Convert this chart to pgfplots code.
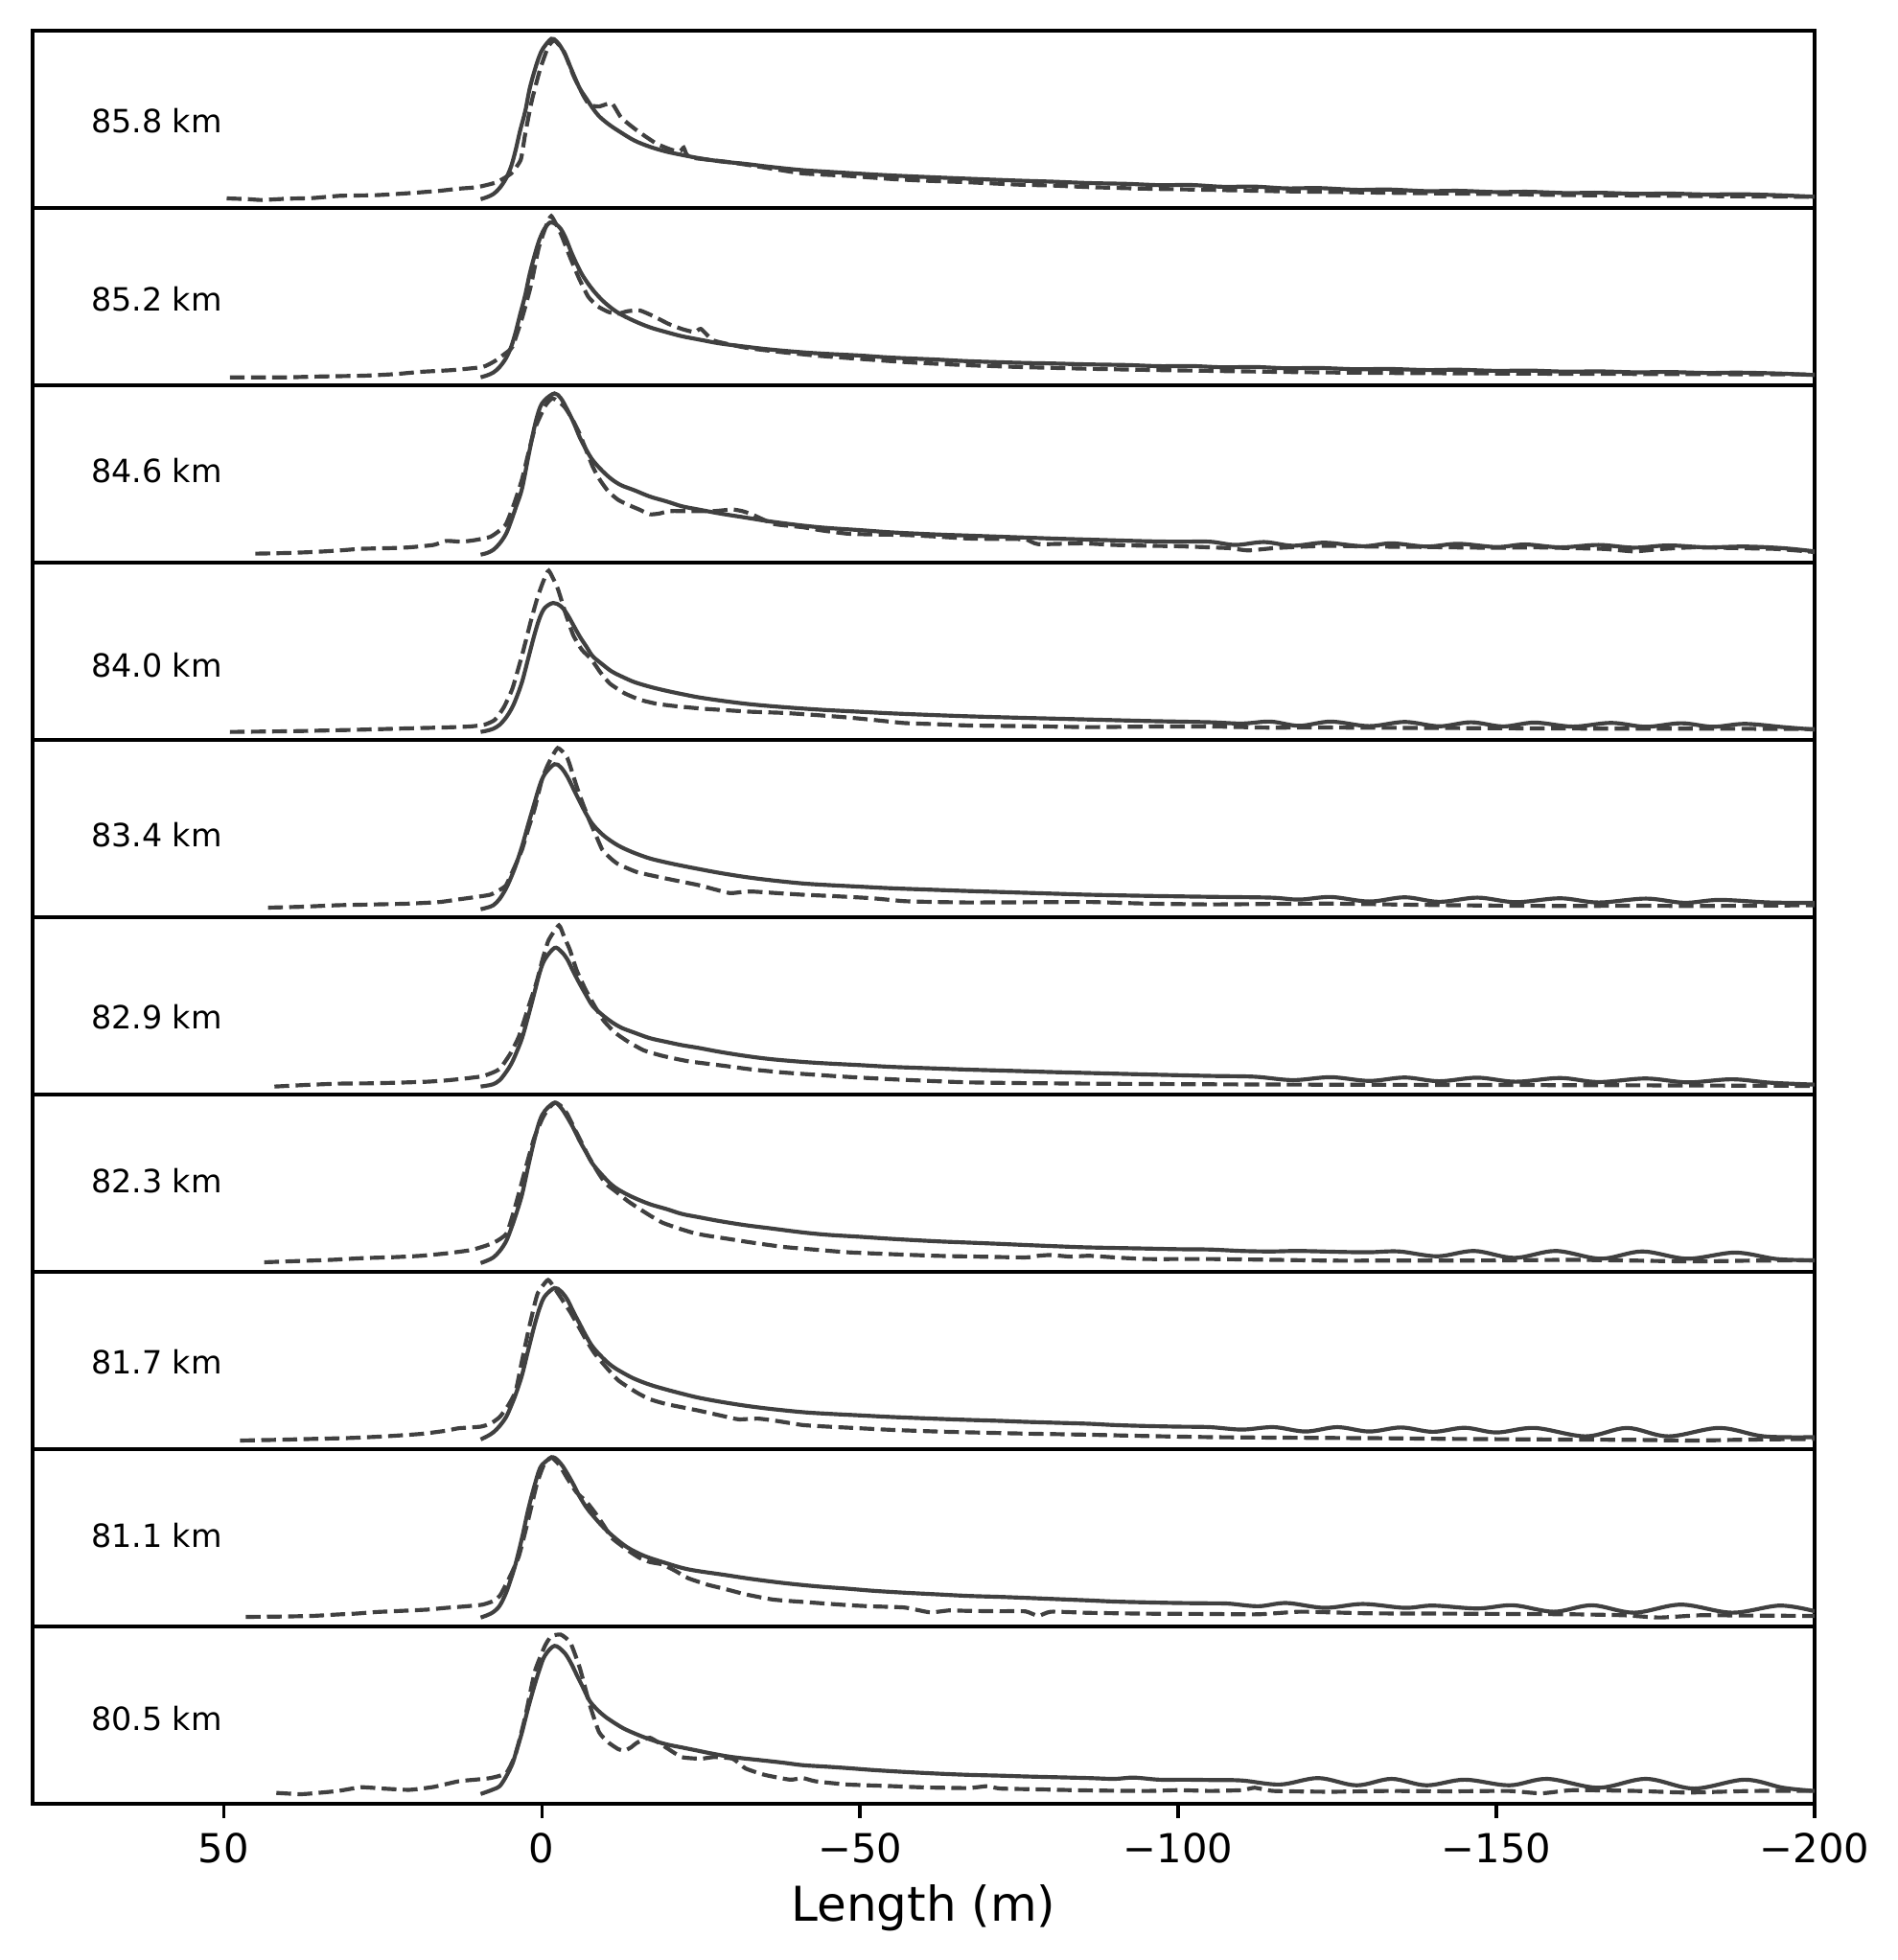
\documentclass[border=0pt]{standalone}
\usepackage{fontspec}
\setmainfont{DejaVu Sans}
\usepackage{pgfplots}
\pgfplotsset{compat=1.18}
\pgfplotsset{
  panel/.style={
    scale only axis, width=446.2pt, height=44.4pt,
    xmin=-200, xmax=80, x dir=reverse,
    ymin=-0.05, ymax=1.05,
    ytick=\empty, xtick=\empty,
    axis line style={line width=0.8pt, black},
    anchor=south west,
  },
  solidline/.style={black!75, line width=1pt, smooth, tension=0.55, no marks},
  dashline/.style={black!75, line width=1pt, dash pattern=on 3.7pt off 1.6pt, smooth, tension=0.3, no marks},
}
\tikzset{lab/.style={anchor=west, inner sep=0pt, font=\fontsize{8}{9.6}\selectfont}}
\begin{document}
\begin{tikzpicture}
\path[use as bounding box] (0,0) rectangle (475.2pt,490.8pt);
% ---------------- 85.8 km
\begin{axis}[panel, at={(8.16pt,438.7pt)}]
\addplot[solidline] coordinates {(9.6,0.005) (8.6,0.018) (7.6,0.037) (6.6,0.075) (5.6,0.135) (4.8,0.21) (4.1,0.31) (3.4,0.43) (2.6,0.55) (1.9,0.69) (1.1,0.806) (0.4,0.89) (-0.2,0.94) (-1.5,1.0) (-2.3,0.985) (-3,0.95) (-3.7,0.90) (-4.5,0.825) (-5.2,0.76) (-6,0.69) (-7,0.63) (-8,0.57) (-9,0.52) (-10.5,0.47) (-12,0.43) (-14.5,0.37) (-17,0.33) (-19.6,0.30) (-22,0.28) (-24.6,0.26) (-28,0.24) (-32,0.224) (-36,0.205) (-41,0.185) (-45,0.175) (-50,0.163) (-55,0.152) (-62,0.14) (-67,0.132) (-75,0.12) (-80,0.114) (-86,0.105) (-92,0.1) (-97,0.092) (-102,0.093) (-107,0.082) (-112,0.083) (-117,0.072) (-122,0.074) (-128,0.063) (-133,0.065) (-139,0.055) (-144,0.057) (-150,0.049) (-155,0.051) (-161,0.043) (-166,0.045) (-172,0.038) (-177,0.04) (-183,0.034) (-188,0.036) (-194,0.03) (-200,0.02)};
\addplot[dashline] coordinates {(49.5,0.01) (46,0.005) (44,0.0) (40,0.008) (36,0.012) (31.7,0.026) (26,0.03) (21,0.042) (16.3,0.056) (13.1,0.07) (10.1,0.08) (7.1,0.11) (4.8,0.165) (3.3,0.25) (2.6,0.41) (1.6,0.61) (0.3,0.806) (-1,0.95) (-2,0.99) (-3.5,0.92) (-5,0.77) (-6.5,0.65) (-7.5,0.59) (-9,0.58) (-11,0.60) (-12.5,0.51) (-15,0.43) (-18,0.35) (-20.5,0.31) (-21.8,0.305) (-22.3,0.325) (-22.8,0.28) (-24,0.26) (-29.6,0.234) (-34.6,0.204) (-41,0.165) (-48,0.15) (-55,0.13) (-60,0.12) (-67,0.11) (-75,0.095) (-80,0.09) (-86,0.08) (-95,0.07) (-105,0.063) (-115,0.055) (-124,0.05) (-133,0.045) (-143,0.04) (-152,0.036) (-162,0.03) (-172,0.028) (-181,0.025) (-190,0.022) (-200,0.02)};
\node[lab] at (axis cs:70.9,0.489) {85.8 km};
\end{axis}
% ---------------- 85.2 km
\begin{axis}[panel, at={(8.16pt,394.3pt)}]
\addplot[solidline] coordinates {(9.6,0.0) (8.6,0.012) (7.6,0.03) (6.6,0.065) (5.6,0.12) (4.8,0.19) (4.1,0.28) (3.4,0.39) (2.6,0.51) (1.9,0.64) (1.1,0.76) (0.4,0.85) (-0.4,0.92) (-1.3,0.96) (-2.2,0.95) (-3,0.92) (-3.8,0.86) (-4.6,0.78) (-5.4,0.71) (-6.3,0.64) (-7.3,0.58) (-8.5,0.52) (-10,0.46) (-12,0.40) (-14.5,0.35) (-17,0.31) (-19.6,0.28) (-22,0.255) (-24.6,0.235) (-28,0.21) (-32,0.19) (-36,0.172) (-41,0.155) (-45,0.145) (-50,0.135) (-55,0.122) (-62,0.11) (-67,0.10) (-75,0.09) (-80,0.086) (-86,0.08) (-92,0.076) (-97,0.069) (-102,0.07) (-107,0.062) (-112,0.064) (-117,0.056) (-122,0.058) (-128,0.05) (-133,0.052) (-139,0.045) (-144,0.047) (-150,0.04) (-155,0.042) (-161,0.035) (-166,0.037) (-172,0.031) (-177,0.033) (-183,0.027) (-188,0.029) (-194,0.024) (-200,0.014)};
\addplot[dashline] coordinates {(49,0.0) (40,0.0) (35,0.005) (28,0.01) (23,0.02) (19,0.034) (14,0.045) (9.3,0.064) (7.4,0.10) (6,0.14) (4.6,0.19) (3,0.38) (1.7,0.57) (0.5,0.80) (-0.6,0.93) (-1.5,1.0) (-3,0.89) (-4.5,0.74) (-5.9,0.61) (-7.3,0.5) (-8.8,0.44) (-10.5,0.405) (-12,0.395) (-13.5,0.41) (-15.4,0.415) (-17.5,0.38) (-20,0.33) (-22,0.3) (-24,0.28) (-25,0.3) (-26.9,0.23) (-30,0.2) (-32.6,0.18) (-38,0.155) (-43,0.135) (-48,0.12) (-55,0.1) (-60,0.088) (-67,0.075) (-75,0.064) (-86,0.053) (-95,0.046) (-105,0.04) (-115,0.034) (-124,0.03) (-133,0.027) (-143,0.025) (-160,0.022) (-180,0.02) (-200,0.018)};
\node[lab] at (axis cs:70.9,0.485) {85.2 km};
\end{axis}
% ---------------- 84.6 km
\begin{axis}[panel, at={(8.16pt,349.9pt)}]
\addplot[solidline] coordinates {(9.6,0.0) (8.6,0.01) (7.6,0.03) (6.6,0.07) (5.6,0.13) (4.8,0.21) (4.1,0.29) (3.1,0.41) (2.1,0.61) (1.1,0.80) (0.3,0.91) (-0.5,0.96) (-2,1.0) (-3,0.97) (-4,0.90) (-5,0.82) (-6,0.725) (-7,0.65) (-8,0.586) (-9.5,0.52) (-11,0.467) (-12.5,0.43) (-14.5,0.40) (-17,0.36) (-19.6,0.33) (-22,0.30) (-24.6,0.28) (-28,0.255) (-32,0.23) (-36,0.205) (-41,0.18) (-45,0.165) (-50,0.152) (-55,0.138) (-62,0.125) (-67,0.118) (-75,0.107) (-80,0.1) (-86,0.093) (-95,0.083) (-100,0.08) (-105,0.08) (-109,0.06) (-113.5,0.078) (-118,0.055) (-123,0.074) (-129,0.052) (-133.5,0.07) (-139,0.05) (-144,0.067) (-150,0.047) (-154.5,0.063) (-160,0.045) (-166,0.06) (-171.6,0.043) (-177,0.057) (-183,0.045) (-189,0.05) (-195,0.04) (-200,0.02)};
\addplot[dashline] coordinates {(45,0.006) (40,0.01) (36,0.016) (32,0.025) (28.4,0.036) (24,0.04) (20.8,0.045) (17,0.06) (15,0.085) (12.6,0.08) (10.5,0.09) (8.1,0.11) (6.6,0.15) (5.6,0.19) (4.3,0.32) (3.1,0.467) (2.1,0.63) (1.1,0.78) (-0.5,0.92) (-1.7,0.97) (-3.5,0.92) (-4.8,0.84) (-6,0.745) (-8,0.546) (-9.2,0.46) (-10.5,0.39) (-12,0.34) (-13.5,0.31) (-15.3,0.28) (-17,0.25) (-18.5,0.255) (-20,0.27) (-23,0.27) (-27,0.27) (-28.5,0.275) (-30,0.28) (-31.5,0.27) (-33,0.25) (-36.5,0.19) (-41,0.17) (-44,0.15) (-48,0.13) (-52,0.125) (-57,0.122) (-62,0.112) (-67,0.10) (-72,0.097) (-76,0.095) (-78,0.065) (-85,0.07) (-90,0.06) (-95,0.055) (-100,0.052) (-105,0.045) (-108,0.04) (-111,0.026) (-115,0.04) (-120,0.05) (-124,0.055) (-130,0.05) (-137,0.048) (-143,0.045) (-150,0.042) (-156,0.045) (-162,0.04) (-167,0.035) (-171.6,0.02) (-176,0.035) (-181,0.045) (-188,0.04) (-194,0.035) (-200,0.016)};
\node[lab] at (axis cs:70.9,0.522) {84.6 km};
\end{axis}
% ---------------- 84.0 km
\begin{axis}[panel, at={(8.16pt,305.5pt)}]
\addplot[solidline] coordinates {(9.6,0.0) (8.6,0.008) (7.6,0.02) (6.6,0.045) (5.6,0.09) (4.8,0.14) (4.1,0.2) (3.1,0.31) (2.1,0.46) (1.1,0.61) (0.3,0.71) (-0.5,0.77) (-1.8,0.80) (-3,0.78) (-4,0.73) (-5,0.66) (-6,0.59) (-7,0.53) (-8,0.47) (-9.5,0.42) (-11,0.375) (-12.5,0.345) (-14.5,0.31) (-17,0.28) (-19.6,0.255) (-22,0.235) (-24.6,0.215) (-28,0.195) (-32,0.175) (-36,0.16) (-41,0.145) (-45,0.135) (-50,0.125) (-55,0.115) (-62,0.104) (-67,0.097) (-75,0.088) (-80,0.083) (-86,0.077) (-95,0.068) (-105,0.06) (-110,0.052) (-114.5,0.064) (-119,0.038) (-124,0.064) (-130,0.036) (-135.6,0.062) (-141,0.035) (-146,0.06) (-151,0.034) (-156,0.058) (-162,0.033) (-168,0.056) (-173.5,0.032) (-179,0.054) (-184,0.032) (-189,0.05) (-195,0.03) (-200,0.014)};
\addplot[dashline] coordinates {(49,0.0) (40,0.004) (35,0.008) (28.4,0.014) (23,0.02) (19,0.024) (15,0.028) (11.2,0.034) (9,0.045) (7.4,0.074) (6,0.15) (4.6,0.27) (3,0.49) (1.7,0.69) (0.7,0.83) (-0.2,0.93) (-1.1,1.0) (-2.5,0.89) (-3.7,0.74) (-4.95,0.6) (-6.3,0.51) (-7.8,0.45) (-9.2,0.37) (-10.7,0.3) (-13,0.24) (-15.4,0.2) (-18,0.175) (-21,0.16) (-25,0.145) (-28.8,0.135) (-33,0.125) (-38,0.118) (-43,0.105) (-48,0.09) (-52,0.075) (-57,0.055) (-62,0.048) (-67,0.04) (-75,0.036) (-86,0.03) (-95,0.033) (-105,0.034) (-110,0.03) (-115,0.026) (-120,0.028) (-130,0.026) (-143,0.024) (-155,0.022) (-170,0.02) (-185,0.02) (-200,0.018)};
\node[lab] at (axis cs:70.9,0.412) {84.0 km};
\end{axis}
% ---------------- 83.4 km
\begin{axis}[panel, at={(8.16pt,261.1pt)}]
\addplot[solidline] coordinates {(9.6,0.0) (8.6,0.01) (7.6,0.025) (6.6,0.065) (5.6,0.13) (4.8,0.2) (4.1,0.27) (3.1,0.39) (2.1,0.53) (1.1,0.665) (0.3,0.77) (-0.5,0.84) (-2,0.90) (-3,0.88) (-4,0.824) (-5,0.745) (-6,0.665) (-7,0.59) (-8,0.527) (-9.5,0.465) (-11,0.42) (-12.5,0.385) (-14.5,0.35) (-17,0.315) (-19.6,0.29) (-22,0.27) (-24.6,0.25) (-28,0.225) (-32,0.20) (-36,0.18) (-41,0.16) (-45,0.15) (-50,0.14) (-55,0.13) (-62,0.12) (-67,0.113) (-72,0.107) (-76,0.102) (-81,0.096) (-86,0.09) (-95,0.083) (-105,0.077) (-114.5,0.072) (-119,0.06) (-124,0.076) (-130,0.048) (-135.6,0.074) (-141,0.046) (-147,0.072) (-153,0.044) (-160,0.068) (-166,0.042) (-173.5,0.066) (-179.5,0.04) (-185,0.058) (-193,0.042) (-200,0.04)};
\addplot[dashline] coordinates {(43,0.01) (38,0.015) (32,0.025) (26,0.03) (20.8,0.035) (16,0.045) (13.1,0.061) (10.5,0.075) (8.1,0.09) (6.6,0.12) (5.6,0.15) (4.3,0.26) (3.1,0.37) (2.1,0.5) (1.1,0.626) (0,0.8) (-1,0.90) (-2.5,1.0) (-4,0.94) (-5.5,0.76) (-6.5,0.65) (-7.5,0.55) (-8.5,0.46) (-9.5,0.37) (-10.7,0.32) (-12,0.28) (-15,0.23) (-19.6,0.19) (-24.6,0.15) (-27,0.125) (-29.6,0.10) (-31.5,0.107) (-33,0.11) (-37,0.10) (-41,0.09) (-45,0.083) (-48,0.077) (-52,0.068) (-57,0.05) (-62,0.045) (-67,0.042) (-75,0.043) (-86,0.045) (-95,0.035) (-105,0.03) (-115,0.033) (-124,0.035) (-133,0.03) (-143,0.025) (-152,0.022) (-162,0.02) (-172,0.022) (-181,0.02) (-190,0.022) (-200,0.025)};
\node[lab] at (axis cs:70.9,0.462) {83.4 km};
\end{axis}
% ---------------- 82.9 km
\begin{axis}[panel, at={(8.16pt,216.7pt)}]
\addplot[solidline] coordinates {(9.6,0.0) (8.6,0.006) (7.6,0.015) (6.6,0.04) (5.6,0.09) (4.8,0.14) (4.1,0.2) (3.1,0.3) (2.1,0.44) (1.1,0.59) (0.3,0.71) (-0.5,0.79) (-2,0.86) (-3,0.84) (-4,0.79) (-5,0.71) (-6,0.635) (-7,0.565) (-8,0.50) (-9.5,0.445) (-11,0.40) (-12.5,0.365) (-14.5,0.335) (-17,0.30) (-19.6,0.277) (-22,0.257) (-24.6,0.24) (-28,0.215) (-32,0.19) (-36,0.17) (-41,0.153) (-45,0.143) (-50,0.133) (-55,0.122) (-62,0.112) (-67,0.105) (-75,0.096) (-80,0.09) (-86,0.084) (-95,0.075) (-105,0.066) (-112,0.061) (-118,0.04) (-124,0.058) (-130,0.035) (-135.6,0.056) (-141,0.033) (-147,0.055) (-153,0.03) (-160,0.053) (-166,0.028) (-173.5,0.05) (-180,0.026) (-187,0.045) (-193,0.024) (-200,0.012)};
\addplot[dashline] coordinates {(42,0.0) (37,0.01) (32,0.018) (27,0.02) (22.7,0.024) (18,0.03) (15,0.038) (12,0.05) (9.3,0.064) (7.5,0.09) (6.5,0.114) (5,0.2) (3.6,0.31) (2.2,0.48) (0.8,0.65) (-0.2,0.8) (-1.1,0.91) (-2.7,1.0) (-3.5,0.93) (-4.4,0.85) (-5.5,0.72) (-6.9,0.60) (-8.3,0.50) (-9.7,0.41) (-11.5,0.335) (-13.5,0.28) (-16,0.225) (-19,0.19) (-23,0.157) (-28.8,0.128) (-33,0.106) (-38,0.087) (-43,0.073) (-48,0.06) (-55,0.045) (-62,0.033) (-67,0.026) (-76,0.021) (-86,0.018) (-95,0.016) (-105,0.014) (-120,0.012) (-143,0.01) (-170,0.008) (-200,0.004)};
\node[lab] at (axis cs:70.9,0.434) {82.9 km};
\end{axis}
% ---------------- 82.3 km
\begin{axis}[panel, at={(8.16pt,172.3pt)}]
\addplot[solidline] coordinates {(9.6,0.005) (8.6,0.02) (7.6,0.04) (6.6,0.08) (5.6,0.14) (4.8,0.22) (4.1,0.3) (3.1,0.43) (2.1,0.61) (1.1,0.78) (0.3,0.89) (-0.5,0.95) (-2,1.0) (-3,0.97) (-4,0.91) (-5,0.84) (-6,0.76) (-7,0.69) (-8,0.62) (-9.5,0.55) (-11,0.49) (-12.5,0.45) (-14.5,0.41) (-17,0.37) (-19.6,0.34) (-22,0.31) (-24.6,0.29) (-28,0.265) (-32,0.24) (-36,0.22) (-41,0.195) (-45,0.18) (-50,0.168) (-55,0.155) (-62,0.14) (-67,0.132) (-72,0.124) (-76,0.117) (-81,0.109) (-86,0.102) (-95,0.095) (-100,0.091) (-105,0.089) (-110,0.08) (-114.5,0.077) (-119,0.08) (-125.6,0.074) (-130,0.072) (-134.7,0.077) (-140.7,0.047) (-146.5,0.08) (-152.8,0.037) (-159.3,0.08) (-166.4,0.032) (-172.9,0.077) (-180,0.032) (-187.5,0.07) (-194,0.03) (-200,0.022)};
\addplot[dashline] coordinates {(43.6,0.01) (38,0.018) (33,0.025) (28.4,0.035) (23,0.042) (19,0.05) (15,0.065) (11.2,0.085) (9,0.11) (7.4,0.134) (5.5,0.19) (4,0.38) (2.7,0.57) (1.2,0.78) (-0.2,0.91) (-1.2,0.97) (-2.1,1.0) (-3,0.98) (-4,0.93) (-5,0.85) (-5.9,0.78) (-7.3,0.67) (-8.8,0.57) (-10,0.5) (-11.6,0.45) (-13.5,0.39) (-15.4,0.34) (-17,0.3) (-19,0.255) (-21.5,0.22) (-24,0.19) (-26,0.175) (-28.8,0.158) (-33,0.132) (-38,0.105) (-43,0.088) (-48,0.072) (-55,0.06) (-62,0.05) (-67,0.046) (-76,0.04) (-78,0.05) (-80,0.055) (-83,0.045) (-86,0.05) (-90,0.04) (-95,0.03) (-105,0.03) (-115,0.025) (-124,0.02) (-133,0.02) (-143,0.02) (-152,0.022) (-162,0.025) (-172,0.02) (-181,0.015) (-190,0.02) (-200,0.022)};
\node[lab] at (axis cs:70.9,0.515) {82.3 km};
\end{axis}
% ---------------- 81.7 km
\begin{axis}[panel, at={(8.16pt,127.9pt)}]
\addplot[solidline] coordinates {(9.6,0.011) (8.6,0.03) (7.6,0.055) (6.6,0.095) (5.6,0.15) (4.8,0.22) (4.1,0.29) (3.1,0.41) (2.1,0.57) (1.1,0.725) (0.3,0.83) (-0.5,0.90) (-2,0.95) (-3,0.93) (-4,0.88) (-5,0.80) (-6,0.725) (-7,0.65) (-8,0.586) (-9.5,0.52) (-11,0.467) (-12.5,0.43) (-14.5,0.388) (-17,0.35) (-19.6,0.32) (-22,0.295) (-24.6,0.27) (-28,0.245) (-32,0.22) (-36,0.2) (-41,0.18) (-45,0.17) (-50,0.16) (-55,0.15) (-62,0.139) (-67,0.132) (-72,0.126) (-76,0.12) (-81,0.114) (-86,0.108) (-90,0.1) (-95,0.094) (-100,0.09) (-105,0.087) (-110,0.072) (-115,0.087) (-120,0.06) (-125,0.087) (-130,0.06) (-135,0.085) (-140,0.058) (-145,0.083) (-150,0.054) (-156,0.082) (-164,0.03) (-170.5,0.082) (-177,0.03) (-185,0.082) (-192,0.03) (-200,0.025)};
\addplot[dashline] coordinates {(47.4,0.004) (42,0.008) (36,0.014) (30,0.02) (24.6,0.03) (19,0.045) (15,0.065) (13.1,0.08) (9.6,0.09) (8,0.11) (6.6,0.15) (5.3,0.22) (4.1,0.31) (3.1,0.5) (2.1,0.685) (1.3,0.82) (0.6,0.92) (-1,1.0) (-2.5,0.92) (-3.5,0.86) (-4.5,0.80) (-5.8,0.71) (-7,0.626) (-8.2,0.55) (-9.5,0.487) (-12,0.378) (-15,0.30) (-17,0.26) (-19.6,0.23) (-24.6,0.19) (-29.6,0.146) (-31,0.135) (-34,0.14) (-37,0.125) (-41,0.10) (-45,0.09) (-50,0.08) (-55,0.07) (-62,0.06) (-67,0.055) (-76,0.047) (-86,0.04) (-95,0.032) (-105,0.025) (-115,0.022) (-124,0.02) (-133,0.018) (-143,0.014) (-152,0.012) (-162,0.01) (-172,0.008) (-181,0.004) (-190,0.01) (-200,0.014)};
\node[lab] at (axis cs:70.9,0.489) {81.7 km};
\end{axis}
% ---------------- 81.1 km
\begin{axis}[panel, at={(8.16pt,83.5pt)}]
\addplot[solidline] coordinates {(9.6,0.006) (8.6,0.02) (7.6,0.04) (6.6,0.08) (5.6,0.16) (4.8,0.25) (4.1,0.34) (3.1,0.5) (2.1,0.68) (1.1,0.83) (0.3,0.93) (-0.5,0.97) (-1.8,1.0) (-3,0.96) (-4,0.9) (-5,0.83) (-5.9,0.76) (-7,0.69) (-8,0.64) (-9.7,0.565) (-11.5,0.5) (-13.5,0.44) (-16,0.39) (-19,0.35) (-23,0.305) (-28.8,0.27) (-33,0.245) (-38,0.22) (-43,0.2) (-48,0.185) (-52,0.172) (-57,0.16) (-62,0.15) (-67,0.14) (-72,0.134) (-76,0.128) (-81,0.12) (-86,0.112) (-90,0.105) (-95,0.1) (-100,0.096) (-105,0.094) (-108,0.092) (-112.6,0.076) (-117,0.096) (-123,0.066) (-129,0.09) (-135.6,0.066) (-140,0.08) (-147,0.062) (-152.6,0.082) (-159,0.042) (-165,0.082) (-171.6,0.036) (-179,0.086) (-187,0.036) (-194.5,0.08) (-200,0.045)};
\addplot[dashline] coordinates {(46.5,0.01) (41,0.012) (36,0.016) (32,0.025) (29.3,0.03) (26,0.04) (22.7,0.046) (18,0.055) (15,0.066) (12,0.075) (9.3,0.086) (7.5,0.11) (6.5,0.146) (5,0.26) (3.6,0.386) (2.2,0.6) (0.8,0.83) (-0.3,0.95) (-1.5,1.0) (-2.8,0.95) (-4,0.87) (-5.5,0.78) (-6.9,0.73) (-8.3,0.66) (-9.7,0.58) (-11,0.5) (-12.6,0.45) (-14,0.41) (-15.4,0.375) (-17,0.35) (-19,0.335) (-21,0.295) (-23,0.25) (-26,0.21) (-28.8,0.183) (-32,0.15) (-36.4,0.117) (-42,0.1) (-48,0.083) (-52,0.075) (-57,0.068) (-61,0.038) (-64,0.05) (-67,0.047) (-72,0.045) (-76,0.044) (-78,0.016) (-80,0.042) (-86,0.035) (-95,0.03) (-105,0.028) (-112.6,0.026) (-118,0.04) (-120,0.042) (-130,0.032) (-143,0.03) (-152,0.028) (-162,0.026) (-170,0.02) (-175.6,0.006) (-182,0.02) (-190,0.018) (-200,0.016)};
\node[lab] at (axis cs:70.9,0.517) {81.1 km};
\end{axis}
% ---------------- 80.5 km
\begin{axis}[panel, at={(8.16pt,39.1pt)},
  xtick={50,0,-50,-100,-150,-200},
  xticklabels={50,0,−50,−100,−150,−200},
  xtick pos=bottom, tick align=outside,
  major tick length=3.5pt,
  every tick/.style={black, line width=0.8pt},
  xticklabel style={font=\fontsize{10}{12}\selectfont, anchor=north, inner sep=0pt, yshift=-3.5pt},
]
\addplot[solidline] coordinates {(9.6,0.011) (8.6,0.025) (7.6,0.04) (6.6,0.06) (5.6,0.12) (4.6,0.20) (3.9,0.29) (3.1,0.395) (2.1,0.55) (1.1,0.69) (0.3,0.79) (-0.5,0.87) (-2,0.93) (-3.5,0.89) (-4.5,0.83) (-5.5,0.75) (-6.5,0.67) (-7.5,0.59) (-8.7,0.535) (-10,0.49) (-11.5,0.45) (-13,0.415) (-15,0.38) (-17,0.35) (-19.5,0.32) (-22,0.30) (-24.5,0.28) (-27,0.26) (-30,0.24) (-34.6,0.22) (-38,0.205) (-41,0.19) (-45,0.18) (-48,0.172) (-52,0.16) (-57,0.148) (-62,0.138) (-67,0.13) (-72,0.125) (-76,0.12) (-81,0.115) (-86,0.11) (-90,0.105) (-93,0.113) (-97,0.1) (-101,0.1) (-105,0.098) (-110,0.095) (-116,0.07) (-122,0.11) (-128,0.065) (-133.5,0.105) (-139,0.065) (-145,0.1) (-152,0.065) (-158,0.105) (-166,0.05) (-173.5,0.105) (-181,0.045) (-189,0.1) (-195,0.05) (-200,0.03)};
\addplot[dashline] coordinates {(41.7,0.018) (38,0.01) (36,0.015) (32,0.03) (28.4,0.053) (25,0.045) (20.8,0.037) (17,0.055) (13.1,0.09) (10.5,0.1) (8.1,0.11) (5.6,0.14) (4.1,0.26) (2.6,0.49) (1.1,0.77) (-0.5,0.93) (-1.5,0.99) (-3,1.0) (-4.5,0.95) (-6,0.79) (-7.5,0.57) (-9,0.395) (-10.5,0.33) (-12,0.29) (-13,0.28) (-14,0.3) (-15,0.33) (-17,0.36) (-19.5,0.30) (-22,0.24) (-25,0.23) (-27,0.24) (-30,0.23) (-32,0.17) (-35,0.13) (-39,0.10) (-41,0.11) (-43,0.09) (-48,0.07) (-55,0.06) (-60,0.052) (-67,0.048) (-70,0.06) (-72,0.045) (-78,0.04) (-86,0.033) (-95,0.03) (-100,0.035) (-105,0.03) (-110,0.035) (-112,0.05) (-115,0.03) (-124,0.025) (-133,0.03) (-143,0.028) (-152,0.03) (-157,0.015) (-162,0.035) (-172,0.03) (-180,0.02) (-190,0.03) (-200,0.03)};
\node[lab] at (axis cs:70.9,0.478) {80.5 km};
\end{axis}
\node[font=\fontsize{12}{14.4}\selectfont, anchor=center] at (231.2pt,13.1pt) {Length (m)};
\end{tikzpicture}
\end{document}
